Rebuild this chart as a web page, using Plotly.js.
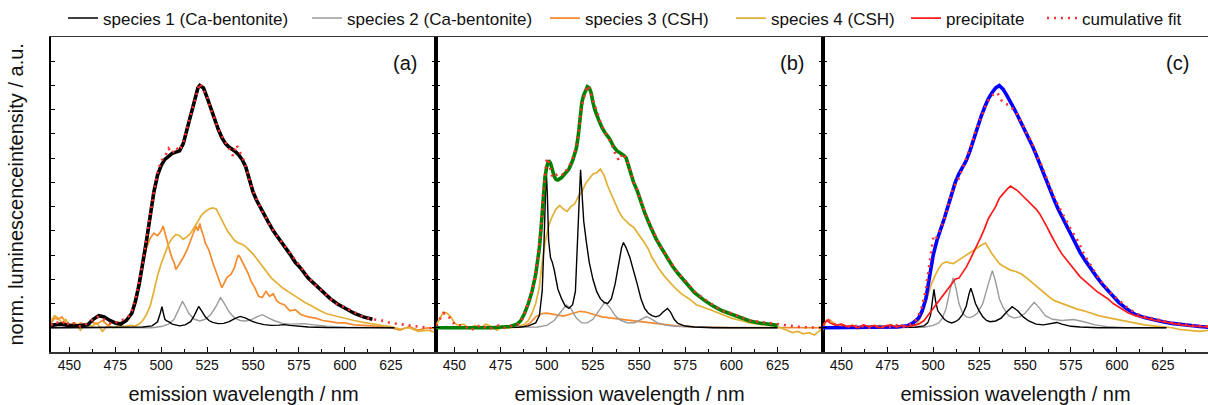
<!DOCTYPE html>
<html><head><meta charset="utf-8">
<script src="https://cdn.plot.ly/plotly-3.0.1.min.js"></script>
<style>html,body{margin:0;padding:0;background:#fff}#chart{width:1208px;height:405px}</style>
</head><body><div id="chart"></div>
<script>
// ---------- data: [wavelength nm, normalised intensity] ----------
// panel (a)
const a_meas = [[440,0.01],[445,0.015],[450,0.01],[455,0.008],[460,0.012],[463,0.035],[466,0.05],[469,0.045],[472,0.03],[475,0.02],[478,0.015],[481,0.03],[484,0.06],[486,0.11],[488,0.18],[490,0.26],[492,0.36],[494,0.46],[496,0.56],[498,0.63],[500,0.67],[502,0.695],[504,0.71],[506,0.72],[508,0.725],[510,0.73],[512,0.76],[514,0.82],[516,0.875],[518,0.94],[520,0.99],[521,1.0],[523,0.99],[525,0.95],[527,0.905],[529,0.86],[531,0.82],[533,0.785],[535,0.76],[537,0.745],[540,0.73],[542,0.715],[544,0.695],[546,0.665],[548,0.61],[550,0.56],[552,0.525],[554,0.495],[556,0.468],[558,0.44],[561,0.40],[564,0.37],[567,0.34],[570,0.305],[573,0.27],[576,0.245],[580,0.205],[584,0.175],[588,0.145],[592,0.12],[596,0.098],[600,0.08],[605,0.06],[610,0.045],[615,0.035]];
const a_fit = [[440,0.01],[442,0.025],[444,0.02],[446,0.015],[448,0.03],[450,0.01],[453,0.02],[456,0.005],[459,0.015],[462,0.03],[465,0.045],[468,0.04],[471,0.02],[474,0.015],[477,0.03],[480,0.035],[482,0.045],[484,0.07],[486,0.12],[488,0.19],[490,0.27],[492,0.37],[494,0.47],[496,0.56],[498,0.64],[500,0.69],[502,0.705],[504,0.74],[506,0.72],[508,0.745],[510,0.73],[512,0.765],[514,0.82],[516,0.88],[518,0.93],[520,0.985],[521,1.01],[523,0.98],[525,0.955],[527,0.9],[529,0.865],[531,0.82],[533,0.79],[535,0.765],[537,0.74],[539,0.71],[541,0.755],[543,0.72],[545,0.69],[547,0.64],[549,0.585],[551,0.545],[553,0.51],[555,0.48],[557,0.455],[559,0.425],[562,0.39],[565,0.36],[568,0.33],[571,0.295],[574,0.265],[577,0.235],[580,0.21],[584,0.175],[588,0.15],[592,0.12],[596,0.095],[600,0.085],[605,0.065],[610,0.045],[615,0.035],[620,0.03],[625,0.02],[630,0.015],[635,0.01],[640,0.005],[645,0.0],[650,-0.005]];
const a_s1 = [[440,0],[480,0],[490,0.003],[495,0.008],[498,0.025],[499.5,0.06],[500.4,0.087],[501.2,0.06],[502,0.035],[503,0.028],[504,0.025],[506,0.015],[508,0.01],[510,0.008],[513,0.012],[516,0.025],[518,0.05],[520.4,0.088],[522,0.07],[524,0.045],[526,0.03],[528,0.022],[531,0.017],[534,0.018],[537,0.025],[540,0.038],[543,0.047],[546,0.04],[549,0.028],[552,0.02],[556,0.013],[560,0.01],[564,0.011],[567,0.013],[570,0.01],[575,0.006],[580,0.003],[590,0.001],[600,0],[627,0]];
const a_s2 = [[440,0],[495,0],[500,0.005],[504,0.015],[507,0.035],[509,0.07],[511.6,0.109],[513,0.09],[515,0.06],[518,0.035],[521,0.028],[524,0.035],[527,0.055],[530,0.09],[532.2,0.124],[534,0.105],[537,0.065],[540,0.04],[543,0.03],[546,0.028],[549,0.033],[552,0.045],[555,0.054],[558,0.042],[562,0.028],[566,0.018],[570,0.015],[575,0.016],[578,0.017],[582,0.013],[590,0.006],[600,0.002],[627,0]];
const a_s3 = [[440,0.02],[442,0.04],[444,0.035],[446,0.045],[448,0.02],[450,0.015],[453,0.005],[456,0.02],[459,0.01],[462,0.025],[465,0.015],[468,0.03],[471,0.01],[474,0.025],[477,0.02],[480,0.03],[482,0.035],[484,0.07],[486,0.12],[488,0.19],[490,0.26],[492,0.33],[494,0.37],[496,0.39],[498,0.38],[500,0.40],[501,0.42],[502,0.39],[503,0.37],[504,0.335],[505,0.31],[506,0.285],[507,0.27],[508,0.24],[509,0.25],[510,0.265],[512,0.29],[514,0.32],[516,0.36],[518,0.395],[519,0.42],[520,0.40],[521,0.43],[522,0.40],[523,0.38],[524,0.35],[526,0.32],[528,0.27],[530,0.23],[532,0.19],[533,0.165],[534,0.18],[536,0.21],[538,0.22],[540,0.25],[541,0.28],[542,0.30],[543,0.29],[545,0.26],[547,0.23],[549,0.19],[551,0.165],[553,0.13],[555,0.125],[557,0.15],[559,0.13],[561,0.14],[563,0.11],[565,0.10],[567,0.095],[570,0.07],[573,0.075],[576,0.055],[580,0.045],[584,0.04],[588,0.03],[592,0.025],[596,0.02],[600,0.02],[605,0.012],[610,0.01],[615,0.008],[620,0.005],[625,0],[630,-0.01],[635,0.005],[640,-0.01],[645,0],[650,-0.005]];
const a_s4 = [[440,0.03],[442,0.05],[444,0.04],[446,0.02],[448,0.035],[450,0.01],[453,0.02],[456,-0.01],[459,0.015],[462,0.005],[465,0.02],[468,-0.015],[471,0.01],[474,0],[477,0.01],[480,0.005],[483,0.01],[486,0.008],[488,0.015],[490,0.03],[492,0.055],[494,0.09],[496,0.15],[498,0.215],[500,0.265],[502,0.305],[504,0.345],[506,0.37],[508,0.385],[510,0.38],[512,0.365],[514,0.375],[516,0.39],[518,0.415],[520,0.44],[522,0.465],[524,0.48],[526,0.49],[528,0.495],[530,0.49],[532,0.46],[534,0.43],[536,0.40],[538,0.38],[540,0.36],[542,0.35],[544,0.345],[546,0.335],[548,0.32],[550,0.305],[552,0.285],[554,0.265],[556,0.24],[558,0.22],[560,0.205],[563,0.185],[566,0.165],[570,0.145],[574,0.125],[578,0.105],[582,0.09],[586,0.072],[590,0.058],[595,0.048],[600,0.038],[605,0.03],[610,0.022],[615,0.015],[620,0.01],[625,0.005],[630,-0.005],[635,0],[640,-0.015],[645,-0.01],[650,-0.02]];
// panel (b)
const b_meas = [[440,0],[450,0],[460,0.002],[470,0],[480,0.005],[484,0.015],[486,0.03],[488,0.06],[490,0.1],[492,0.15],[494,0.22],[496,0.33],[497,0.42],[498,0.52],[499,0.62],[500,0.665],[501,0.69],[502,0.68],[503,0.65],[504,0.625],[505,0.612],[506,0.61],[508,0.62],[510,0.64],[512,0.655],[514,0.69],[516,0.74],[517,0.79],[518,0.86],[519,0.93],[520,0.96],[521,0.98],[522,0.995],[523,0.99],[524,0.97],[525,0.93],[526,0.9],[528,0.86],[530,0.825],[532,0.8],[534,0.78],[536,0.75],[538,0.73],[540,0.72],[542,0.71],[543,0.70],[545,0.65],[547,0.60],[549,0.565],[551,0.52],[553,0.475],[556,0.42],[559,0.37],[562,0.33],[565,0.29],[568,0.255],[571,0.225],[575,0.19],[580,0.145],[585,0.115],[590,0.09],[595,0.07],[600,0.055],[605,0.04],[610,0.028],[615,0.02],[620,0.015],[625,0.01]];
const b_fit = [[440,0.01],[442,0.035],[444,0.06],[446,0.055],[448,0.035],[450,0.015],[453,0.01],[456,0.005],[459,-0.01],[462,0.005],[465,0.01],[468,-0.005],[471,0],[474,0.01],[477,0],[480,0.005],[483,0.01],[485,0.015],[487,0.04],[489,0.08],[491,0.13],[493,0.19],[495,0.28],[497,0.42],[498,0.55],[499,0.64],[500,0.7],[501,0.69],[502,0.655],[503,0.62],[505,0.63],[507,0.64],[509,0.63],[511,0.655],[513,0.68],[515,0.72],[517,0.79],[519,0.92],[521,0.97],[522,1.0],[523,0.985],[525,0.94],[527,0.9],[529,0.85],[531,0.815],[533,0.79],[535,0.76],[537,0.72],[539,0.69],[541,0.72],[543,0.7],[545,0.655],[547,0.6],[549,0.57],[551,0.52],[553,0.48],[556,0.425],[559,0.375],[562,0.33],[565,0.295],[568,0.26],[571,0.225],[575,0.195],[580,0.15],[585,0.12],[590,0.095],[595,0.07],[600,0.06],[605,0.045],[610,0.03],[615,0.025],[620,0.02],[625,0.012],[630,0.01],[635,0.005],[640,0.002],[645,0],[650,0]];
const b_s1 = [[440,0],[485,0.002],[490,0.008],[494,0.02],[496,0.05],[497.5,0.15],[498.5,0.35],[499.2,0.55],[499.7,0.652],[500.3,0.55],[501,0.36],[502,0.29],[503,0.27],[504,0.24],[505,0.2],[506,0.16],[508,0.12],[510,0.09],[512,0.08],[514,0.095],[515.5,0.15],[516.8,0.35],[517.7,0.55],[518.3,0.652],[519,0.56],[520,0.44],[521.5,0.35],[523,0.27],[525,0.2],[527,0.15],[529,0.12],[531,0.105],[533,0.1],[535,0.12],[537,0.18],[539,0.27],[540.5,0.33],[541.5,0.352],[543,0.33],[545,0.29],[547,0.24],[549,0.18],[551,0.12],[553,0.08],[555,0.06],[557,0.05],[559,0.045],[561,0.05],[563,0.065],[565.4,0.08],[567,0.065],[569,0.035],[571,0.018],[575,0.007],[580,0.003],[590,0],[625,0]];
const b_s2 = [[440,0],[495,0.003],[500,0.01],[504,0.03],[507,0.06],[510.6,0.094],[513,0.08],[516,0.04],[519,0.02],[522,0.02],[525,0.035],[528,0.07],[531.4,0.105],[534,0.085],[537,0.05],[540,0.03],[544,0.02],[548,0.022],[551,0.035],[554,0.046],[557,0.035],[560,0.02],[565,0.01],[570,0.006],[580,0.003],[600,0],[625,0]];
const b_s3 = [[440,0],[460,0],[480,0],[488,0.005],[491,0.02],[494,0.045],[497,0.058],[500,0.06],[503,0.056],[506,0.05],[509,0.048],[512,0.055],[515,0.062],[518,0.068],[521,0.065],[524,0.058],[527,0.05],[530,0.045],[535,0.04],[540,0.035],[545,0.032],[550,0.028],[555,0.022],[560,0.018],[565,0.013],[570,0.008],[580,0.004],[600,0.001],[650,0]];
const b_s4 = [[440,0.01],[442,0.04],[444,0.065],[446,0.06],[448,0.045],[450,0.02],[452,0.01],[455,0.015],[458,-0.005],[461,0.01],[464,0],[467,0.015],[470,0.005],[473,-0.01],[476,0.005],[479,0],[482,0.005],[485,0.005],[488,0.015],[490,0.03],[492,0.06],[494,0.1],[496,0.17],[497.5,0.27],[499,0.35],[501,0.42],[503,0.46],[505,0.49],[507,0.505],[509,0.49],[511,0.48],[513,0.5],[515,0.51],[517,0.54],[519,0.56],[521,0.595],[523,0.615],[525,0.635],[527,0.64],[529,0.655],[531,0.63],[533,0.585],[535,0.55],[537,0.515],[539,0.48],[541,0.455],[543,0.44],[545,0.425],[547,0.415],[549,0.395],[551,0.375],[553,0.35],[555,0.325],[557,0.29],[559,0.265],[561,0.24],[564,0.21],[567,0.185],[570,0.16],[573,0.14],[577,0.12],[581,0.095],[585,0.085],[590,0.07],[595,0.055],[600,0.04],[605,0.03],[610,0.02],[615,0.015],[620,0.01],[625,0.005],[630,-0.01],[633,-0.02],[636,-0.015],[639,-0.025],[642,-0.02],[645,-0.03],[648,-0.01],[650,-0.005]];
// panel (c)
const c_meas = [[440,0],[450,0],[460,0.002],[470,0.003],[480,0.003],[486,0.008],[489,0.02],[492,0.04],[494,0.07],[496,0.12],[498,0.22],[500,0.3],[502,0.36],[504,0.4],[506,0.45],[508,0.5],[510,0.55],[512,0.6],[514,0.635],[516,0.66],[518,0.69],[520,0.73],[522,0.78],[524,0.83],[526,0.87],[528,0.91],[530,0.945],[532,0.97],[534,0.99],[536,1.0],[538,0.985],[540,0.96],[542,0.935],[544,0.905],[546,0.875],[548,0.845],[550,0.815],[552,0.785],[554,0.75],[556,0.715],[558,0.675],[560,0.64],[562,0.605],[564,0.565],[566,0.525],[568,0.49],[570,0.46],[572,0.43],[574,0.4],[576,0.37],[578,0.34],[580,0.31],[583,0.275],[586,0.24],[589,0.21],[592,0.18],[595,0.155],[598,0.13],[601,0.105],[605,0.08],[610,0.055],[615,0.042],[620,0.032],[625,0.025],[630,0.018],[635,0.013],[640,0.009],[645,0.005],[650,0.002]];
const c_fit = [[440,0.01],[443,0.03],[446,0.015],[450,0.01],[455,0.005],[460,0.01],[465,0],[470,0.008],[475,0],[480,0.01],[484,0.005],[487,0.012],[490,0.025],[492,0.05],[494,0.09],[496,0.16],[498,0.26],[500,0.37],[501,0.36],[503,0.39],[505,0.43],[507,0.47],[509,0.53],[511,0.58],[513,0.6],[515,0.64],[517,0.675],[519,0.715],[521,0.76],[523,0.81],[525,0.85],[527,0.89],[529,0.925],[531,0.95],[533,0.965],[535,0.97],[537,0.94],[539,0.925],[541,0.92],[543,0.905],[545,0.89],[547,0.86],[549,0.835],[551,0.8],[553,0.775],[555,0.74],[557,0.7],[559,0.67],[561,0.63],[563,0.59],[565,0.555],[567,0.52],[569,0.49],[571,0.46],[573,0.435],[575,0.405],[577,0.38],[579,0.355],[582,0.305],[585,0.265],[588,0.23],[591,0.195],[594,0.17],[597,0.14],[600,0.12],[603,0.1],[607,0.075],[611,0.058],[615,0.045],[620,0.038],[625,0.028],[630,0.02],[635,0.016],[640,0.01],[645,0.008],[650,0.005]];
const c_prec = [[440,0.01],[442,0.03],[444,0.02],[447,0.01],[450,0.015],[453,0.005],[456,0.01],[459,0],[462,0.012],[465,0.005],[468,0.01],[471,0],[474,0.008],[477,0.012],[480,0.003],[483,0.01],[486,0.005],[489,0.01],[492,0.015],[495,0.03],[498,0.06],[501,0.09],[504,0.115],[507,0.145],[510,0.18],[512,0.2],[514,0.205],[516,0.225],[518,0.25],[520,0.28],[522,0.31],[524,0.345],[526,0.375],[528,0.41],[530,0.45],[532,0.475],[534,0.5],[536,0.535],[538,0.555],[540,0.57],[542,0.585],[544,0.575],[546,0.565],[548,0.55],[550,0.535],[552,0.52],[554,0.505],[556,0.49],[558,0.47],[560,0.445],[562,0.415],[564,0.385],[566,0.355],[568,0.33],[570,0.305],[572,0.285],[574,0.265],[576,0.245],[578,0.225],[580,0.21],[583,0.19],[586,0.17],[589,0.15],[592,0.135],[595,0.12],[598,0.1],[602,0.08],[606,0.062],[610,0.05],[615,0.04],[620,0.032],[625,0.025],[630,0.018],[635,0.012],[640,0.008],[645,0.005],[650,0.003]];
const c_s1 = [[440,0],[490,0.002],[495,0.008],[497,0.02],[498.5,0.05],[499.5,0.11],[500.4,0.159],[501.3,0.11],[502.5,0.07],[504,0.055],[506,0.035],[508,0.025],[510,0.02],[512,0.025],[514,0.035],[516,0.055],[518,0.09],[519.5,0.14],[520.5,0.163],[521.5,0.14],[523,0.1],[525,0.07],[527,0.045],[529,0.03],[531,0.025],[534,0.028],[537,0.04],[540,0.065],[543,0.087],[546,0.07],[549,0.045],[552,0.028],[556,0.015],[560,0.012],[564,0.016],[567.3,0.022],[570,0.015],[575,0.006],[580,0.003],[590,0],[627,0]];
const c_s2 = [[440,0],[495,0.002],[500,0.01],[503,0.02],[505,0.04],[507,0.08],[509,0.15],[510.9,0.207],[512.5,0.16],[514,0.1],[516,0.06],[518,0.045],[520,0.042],[522,0.048],[524,0.06],[527,0.1],[530,0.18],[532.2,0.236],[534,0.19],[536,0.12],[538,0.085],[541,0.05],[544,0.04],[547,0.045],[550,0.06],[552,0.08],[555,0.105],[558,0.08],[561,0.05],[565,0.035],[570,0.03],[576.4,0.034],[582,0.025],[588,0.012],[595,0.004],[605,0],[627,0]];
const c_s4 = [[440,-0.01],[441,0.02],[443,0.035],[445,0.025],[447,0.01],[450,0.015],[453,0.005],[456,0.01],[459,-0.005],[462,0.008],[465,0],[468,0.005],[471,0.01],[474,0],[477,0.005],[480,0],[484,0.005],[488,0.005],[491,0.015],[493,0.04],[495,0.08],[497,0.13],[499,0.18],[501,0.215],[503,0.245],[505,0.265],[507,0.272],[509,0.268],[511,0.265],[513,0.275],[515,0.285],[517,0.295],[519,0.305],[521,0.318],[523,0.325],[525,0.335],[527,0.345],[528.5,0.35],[530,0.33],[532,0.305],[534,0.285],[536,0.265],[538,0.255],[540,0.245],[542,0.238],[545,0.232],[548,0.222],[551,0.205],[554,0.185],[557,0.165],[560,0.145],[563,0.128],[566,0.112],[570,0.1],[574,0.09],[578,0.078],[582,0.07],[586,0.06],[590,0.05],[595,0.042],[600,0.035],[605,0.025],[610,0.018],[615,0.012],[620,0.008],[625,0.004],[630,0],[635,-0.008],[640,-0.012],[645,-0.015],[650,-0.01]];

const xTickVals = [450,475,500,525,550,575,600,625];
const xMinorVals = [437.5,462.5,487.5,512.5,537.5,562.5,587.5,612.5,637.5];
const panelLabels = ['(a)','(b)','(c)'];
const xTitle = 'emission wavelength / nm';
const yTitle = 'norm. luminescenceintensity / a.u.';

// ---------- styles ----------
const C = {s1:'#000000', s2:'#9b9b9b', s3:'#f58b2e', s4:'#e3b034', prec:'#ff1a1a', fit:'#ff3030',
           measA:'#000000', measB:'#008000', measC:'#0000ff'};
const FONT = 'Liberation Sans, Arial, sans-serif';

function tr(pts, ax, color, width, name, opts) {
  return Object.assign({
    type:'scatter', mode:'lines', x: pts.map(p=>p[0]), y: pts.map(p=>p[1]),
    xaxis:'x'+ax, yaxis:'y'+ax, name: name, showlegend:false,
    line:{color:color, width:width}, hoverinfo:'skip'
  }, opts||{});
}
const dotLine = (c)=>({color:c, width:2.6, dash:'2px,5px'});

const data = [
  // panel a
  tr(a_s3,'', C.s3,1.7,'species 3 (CSH)',{showlegend:true, legend:'legend3'}),
  tr(a_s4,'', C.s4,1.7,'species 4 (CSH)',{showlegend:true, legend:'legend4'}),
  tr(a_s2,'', C.s2,1.4,'species 2 (Ca-bentonite)',{showlegend:true, legend:'legend2'}),
  tr(a_s1,'', C.s1,1.4,'species 1 (Ca-bentonite)',{showlegend:true, legend:'legend'}),
  tr(a_meas,'', C.measA,3.6,'measured (a)'),
  Object.assign(tr(a_fit,'', C.fit,2.6,'cumulative fit',{showlegend:true, legend:'legend6'}),{line:dotLine(C.fit)}),
  // panel b
  tr(b_s3,'2', C.s3,1.7,'species 3 (CSH)'),
  tr(b_s4,'2', C.s4,1.7,'species 4 (CSH)'),
  tr(b_s2,'2', C.s2,1.4,'species 2 (Ca-bentonite)'),
  tr(b_s1,'2', C.s1,1.4,'species 1 (Ca-bentonite)'),
  tr(b_meas,'2', C.measB,3.6,'measured (b)'),
  Object.assign(tr(b_fit,'2', C.fit,2.6,'cumulative fit'),{line:dotLine(C.fit)}),
  // panel c
  tr(c_s4,'3', C.s4,1.7,'species 4 (CSH)'),
  tr(c_s2,'3', C.s2,1.4,'species 2 (Ca-bentonite)'),
  tr(c_s1,'3', C.s1,1.4,'species 1 (Ca-bentonite)'),
  tr(c_meas,'3', C.measC,3.6,'measured (c)'),
  tr(c_prec,'3', C.prec,1.7,'precipitate',{showlegend:true, legend:'legend5'}),
  Object.assign(tr(c_fit,'3', C.fit,2.6,'cumulative fit'),{line:dotLine(C.fit)})
];

const W = 1208, H = 405, ML = 51, MT = 37, MB = 53;
const PW = W - ML, PH = H - MT - MB;
const px2x = (px)=> (px - ML)/PW;
const bounds = [[51,436],[436,823],[823,1208]];

function xax(i) {
  return {
    domain:[px2x(bounds[i][0]), px2x(bounds[i][1])], anchor: 'y'+(i?i+1:''),
    range:[440,649.6], tickvals:xTickVals, ticks:'inside', ticklen:5, tickwidth:1, tickcolor:'#000',
    minor:{tickvals:xMinorVals, ticks:'inside', ticklen:3, tickcolor:'#000'},
    showline:true, linecolor:'#333', linewidth:1.5, mirror:true, showgrid:false, zeroline:false,
    tickfont:{family:FONT, size:14, color:'#111'}, automargin:false,
    title:{text:xTitle, font:{family:FONT, size:20, color:'#111'}, standoff:15}
  };
}
function yax(i) {
  return {
    domain:[0,1], anchor:'x'+(i?i+1:''), range:[-0.1,1.2], dtick:0.1, tick0:0,
    ticks:'inside', ticklen:4, tickwidth:1, tickcolor:'#000', showticklabels:false,
    showline:true, linecolor:'#000', linewidth:2, mirror:(i===2?false:'ticks'), showgrid:false, zeroline:false,
    automargin:false
  };
}

// legend: left px of each entry's text
const legendTextPx = [104, 348, 586, 772, 947, 1083];
const layout = {
  width:W, height:H, margin:{l:ML, r:0, t:MT, b:MB}, paper_bgcolor:'#fff', plot_bgcolor:'#fff',
  font:{family:FONT, size:14, color:'#111'},
  xaxis:xax(0), xaxis2:xax(1), xaxis3:xax(2),
  yaxis:yax(0), yaxis2:yax(1), yaxis3:yax(2),
  annotations: panelLabels.map((t,i)=>({text:t, xref:'x'+(i?i+1:'')+' domain', yref:'y'+(i?i+1:'')+' domain',
     x:0.955, y:0.917, xanchor:'right', yanchor:'middle', showarrow:false, font:{family:FONT, size:20, color:'#111'}}))
    .concat([{text:yTitle, xref:'paper', yref:'paper', x:px2x(15), y:0.5, xanchor:'center', yanchor:'middle',
      textangle:-90, showarrow:false, font:{family:FONT, size:20, color:'#111'}}])
};
['legend','legend2','legend3','legend4','legend5','legend6'].forEach((k,i)=>{
  layout[k] = {x:px2x(legendTextPx[i]-41), xanchor:'left', y:1+(MT-0.5)/PH, yanchor:'top', orientation:'h',
    font:{family:FONT, size:17, color:'#111'}, bgcolor:'rgba(0,0,0,0)', borderwidth:0};
});

Plotly.newPlot('chart', data, layout, {staticPlot:true, displayModeBar:false});
</script></body></html>
